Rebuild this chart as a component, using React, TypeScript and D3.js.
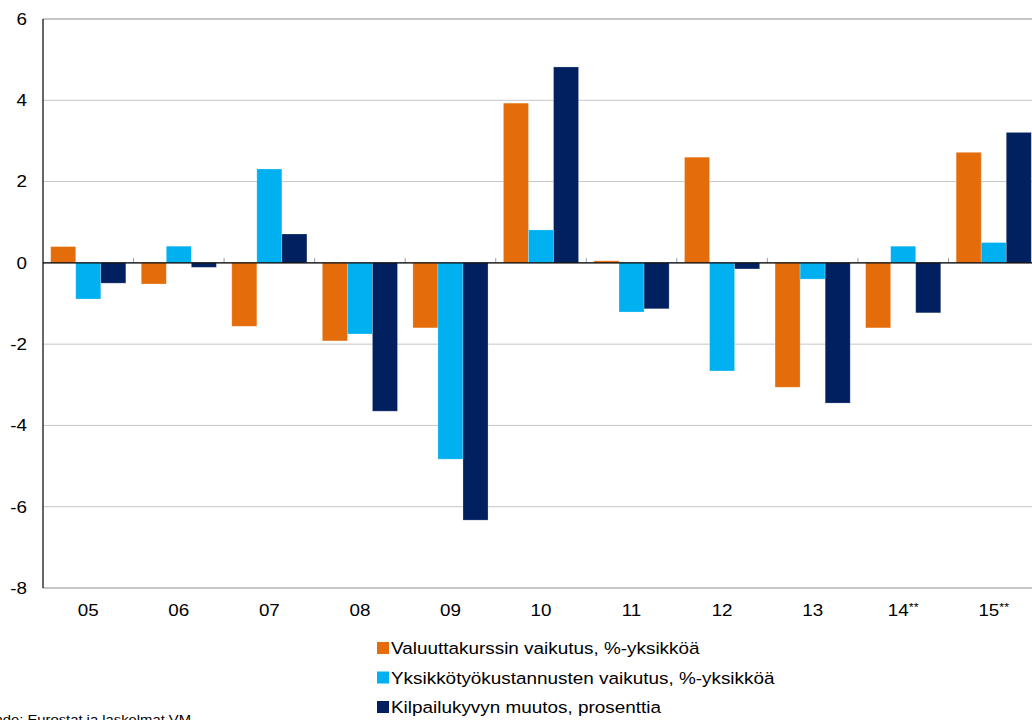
import React from "react";
import * as d3 from "d3";

const categories = ["05", "06", "07", "08", "09", "10", "11", "12", "13", "14**", "15**"];
const valuutta = [0.4, -0.52, -1.56, -1.92, -1.6, 3.93, 0.05, 2.6, -3.06, -1.6, 2.72];
const yksikko = [-0.89, 0.41, 2.31, -1.75, -4.83, 0.81, -1.21, -2.66, -0.4, 0.41, 0.5];
const kilpailu = [-0.5, -0.11, 0.71, -3.65, -6.33, 4.82, -1.13, -0.15, -3.45, -1.23, 3.21];
const yTicks = [-8, -6, -4, -2, 0, 2, 4, 6];
const seriesNames = [
  "Valuuttakurssin vaikutus, %-yksikköä",
  "Yksikkötyökustannusten vaikutus, %-yksikköä",
  "Kilpailukyvyn muutos, prosenttia",
];
const seriesColors = ["#E46C0A", "#00B0F0", "#002060"];
const sourceText = "Lähde: Eurostat ja laskelmat VM";

export default function App() {
  const W = 1032;
  const H = 720;
  const left = 43;
  const right = 1039;
  const top = 19;
  const bottom = 588;
  const series = [valuutta, yksikko, kilpailu];
  const sx = 1.14;

  const x = d3.scaleBand<string>().domain(categories).range([left, right]).paddingInner(0).paddingOuter(0);
  const bw = x.bandwidth();
  const off = bw * 0.085;
  const inner = d3.scaleBand<number>().domain([0, 1, 2]).range([off, bw - off]).padding(0);
  const y = d3.scaleLinear().domain([-8, 6]).range([bottom, top]);
  const font = "Liberation Sans, Arial, sans-serif";

  const T = (props: { x: number; y: number; anchor?: string; size: number; children: React.ReactNode }) => (
    <g transform={`translate(${props.x},${props.y}) scale(${sx},1)`}>
      <text x={0} y={0} textAnchor={props.anchor || "start"} fontFamily={font} fontSize={props.size} fill="#000">
        {props.children}
      </text>
    </g>
  );

  return (
    <div style={{ position: "fixed", left: 0, top: 0 }}>
      <svg width={W} height={H} style={{ display: "block", background: "#fff" }}>
        <rect x={0} y={0} width={W} height={H} fill="#fff" />
        {yTicks.map((t) => (
          <line
            key={"g" + t}
            x1={left}
            x2={right}
            y1={y(t)}
            y2={y(t)}
            stroke={t === 6 || t === -8 ? "#8c8c8c" : "#c6c6c6"}
            strokeWidth={1}
          />
        ))}
        {categories.map((c, i) =>
          i === 0 ? null : (
            <line key={"t" + c} x1={x(c)!} x2={x(c)!} y1={y(0) - 5} y2={y(0)} stroke="#a0a0a0" strokeWidth={1} />
          )
        )}
        {series.map((vals, s) =>
          vals.map((v, i) => {
            const bx = x(categories[i])! + inner(s)!;
            const y0 = y(Math.max(0, v));
            const h = Math.abs(y(v) - y(0));
            return (
              <rect
                key={s + "-" + i}
                x={bx}
                y={y0}
                width={inner.bandwidth()}
                height={h}
                fill={seriesColors[s]}
                stroke="#ffffff"
                strokeOpacity={0.3}
                strokeWidth={0.8}
              />
            );
          })
        )}
        <line x1={left} x2={right} y1={y(0)} y2={y(0)} stroke="#000" strokeWidth={1.2} />
        <line x1={left} x2={left} y1={top} y2={bottom} stroke="#000" strokeWidth={1.2} />
        {yTicks.map((t) => (
          <T key={"yl" + t} x={27} y={y(t) + 5.8} anchor="end" size={16.5}>
            {t}
          </T>
        ))}
        {categories.map((c) => (
          <T key={"xl" + c} x={x(c)! + bw / 2} y={616} anchor="middle" size={16.5}>
            {c.replace("**", "")}
            {c.includes("**") ? (
              <tspan fontSize={11} dy={-5}>
                **
              </tspan>
            ) : null}
          </T>
        ))}
        {seriesNames.map((n, s) => {
          const cy = 648 + s * 29.5;
          return (
            <g key={"lg" + s}>
              <rect x={377} y={cy - 6} width={12} height={12} fill={seriesColors[s]} />
              <T x={391} y={cy + 6} size={16.6}>
                {n}
              </T>
            </g>
          );
        })}
        <T x={-22} y={724} size={13}>
          {sourceText}
        </T>
      </svg>
    </div>
  );
}
